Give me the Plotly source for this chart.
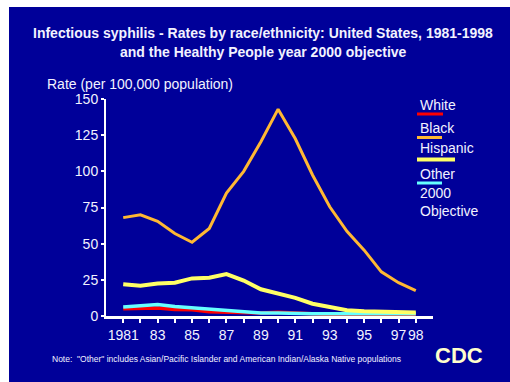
import plotly.graph_objects as go

years = list(range(1981, 1999))
white = [5.0, 5.3, 5.5, 4.5, 4.3, 3.0, 2.5, 2.0, 2.0, 2.6, 2.0, 1.5, 1.0, 0.8, 0.7, 0.5, 0.5, 0.5]
black = [68, 70, 65.5, 57, 51, 60.5, 85, 100, 120.5, 143, 122.5, 97.5, 75.5, 58.5, 45.5, 30.5, 23, 17.5]
hispanic = [22, 21, 22.5, 23, 26, 26.5, 29, 24.5, 18.5, 15.5, 12.5, 8.5, 6, 4, 3.2, 3, 2.7, 2.5]
other = [6.2, 7.0, 8.0, 6.5, 5.5, 4.5, 3.5, 2.5, 2.0, 2.0, 1.6, 1.5, 1.5, 1.3, 1.5, 1.6, 1.6, 1.6]

tick_years = years
tick_text = [("1981" if y == 1981 else (str(y)[2:] if (y % 2 == 1 or y == 1998) else "")) for y in years]

colors = {"White": "#FF0000", "Black": "#FFB833", "Hispanic": "#FFFF66", "Other": "#66FFFF"}
widths = {"White": 3.5, "Black": 3, "Hispanic": 4, "Other": 3.5}

BG = "#000099"
TXT = "#F2F2FF"

W, H = 510, 382
L, R, T, B = 106, 433, 99, 316  # plot area pixel bounds
def px(x):
    return (x - L) / (R - L)
def py(y):
    return (B - y) / (B - T)

fig = go.Figure()
series = {"White": white, "Black": black, "Hispanic": hispanic, "Other": other}
for name in ["White", "Other", "Hispanic", "Black"]:
    fig.add_trace(go.Scatter(x=years, y=series[name], mode="lines", name=name,
                             line=dict(color=colors[name], width=widths[name]),
                             showlegend=False, hoverinfo="skip"))

shapes = [dict(type="rect", xref="paper", yref="paper", x0=px(9), x1=px(515), y0=py(386), y1=py(7),
               fillcolor=BG, line=dict(width=0), layer="below")]
annotations = []

font = "Liberation Sans, Arial, sans-serif"
# Title
annotations.append(dict(text="<b>Infectious syphilis - Rates by race/ethnicity: United States, 1981-1998</b>",
                        xref="paper", yref="paper", x=px(263), y=py(33), showarrow=False,
                        xanchor="center", yanchor="middle", font=dict(family=font, size=14, color=TXT)))
annotations.append(dict(text="<b>and the Healthy People year 2000 objective</b>",
                        xref="paper", yref="paper", x=px(263), y=py(52), showarrow=False,
                        xanchor="center", yanchor="middle", font=dict(family=font, size=14, color=TXT)))
annotations.append(dict(text="Rate (per 100,000 population)", xref="paper", yref="paper",
                        x=px(45), y=py(84), showarrow=False, xanchor="left", yanchor="middle",
                        font=dict(family=font, size=14, color=TXT)))

# Legend
leg = [("White", 105, 114, 443), ("Black", 128, 137.5, 442), ("Hispanic", 148, 159.5, 455), ("Other", 174, 183, 442)]
for name, ty, sy, sx1 in leg:
    annotations.append(dict(text=name, xref="paper", yref="paper", x=px(418), y=py(ty), showarrow=False,
                            xanchor="left", yanchor="middle", font=dict(family=font, size=14, color=TXT)))
    shapes.append(dict(type="line", xref="paper", yref="paper", x0=px(417), x1=px(sx1), y0=py(sy), y1=py(sy),
                       line=dict(color=colors[name], width=3 if name != "Hispanic" else 4)))
annotations.append(dict(text="2000<br>Objective", xref="paper", yref="paper", x=px(418), y=py(202),
                        showarrow=False, xanchor="left", yanchor="middle", align="left",
                        font=dict(family=font, size=14, color=TXT)))

# Note
annotations.append(dict(text='Note:  "Other" includes Asian/Pacific Islander and American Indian/Alaska Native populations',
                        xref="paper", yref="paper", x=px(50), y=py(359), showarrow=False,
                        xanchor="left", yanchor="middle", font=dict(family=font, size=8.5, color=TXT)))
# CDC logo
annotations.append(dict(text="<b>CDC</b>", xref="paper", yref="paper", x=px(459), y=py(355), showarrow=False,
                        xanchor="center", yanchor="middle", font=dict(family=font, size=22, color="#FFFFCC")))

fig.update_layout(
    width=W, height=H, autosize=False,
    margin=dict(l=L, r=W - R, t=T, b=H - B, pad=0),
    paper_bgcolor="white", plot_bgcolor="rgba(0,0,0,0)",
    shapes=shapes, annotations=annotations, showlegend=False,
    xaxis=dict(range=[1980, 1999], tickvals=tick_years, ticktext=tick_text, showgrid=False, zeroline=False,
               showline=True, linecolor="white", linewidth=3, ticks="outside", ticklen=4, tickwidth=2,
               tickcolor="white", tickfont=dict(family=font, size=14, color=TXT), tickangle=0),
    yaxis=dict(range=[0, 150], tickvals=[0, 25, 50, 75, 100, 125, 150], showgrid=False, zeroline=False,
               showline=True, linecolor="white", linewidth=2, ticks="outside", ticklen=3, tickwidth=2,
               tickcolor="white", tickfont=dict(family=font, size=14, color=TXT)),
)

fig.write_html("out.html")
